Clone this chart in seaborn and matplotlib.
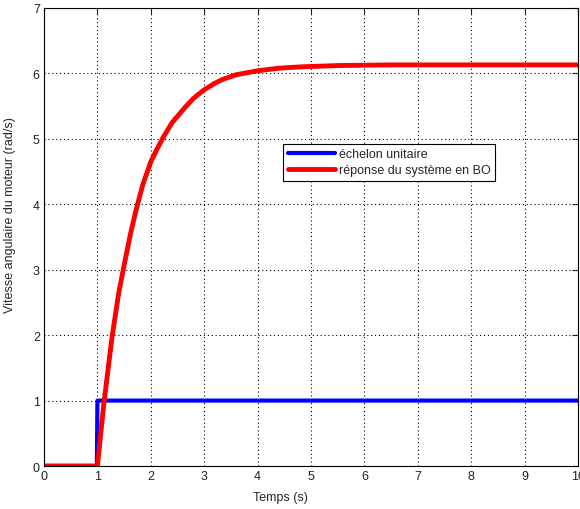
import numpy as np
import pandas as pd
import matplotlib
matplotlib.use("Agg")
import matplotlib.pyplot as plt
import seaborn as sns

# ── Data ────────────────────────────────────────────────────
step_t = [0.0, 0.99, 1.0, 10.0]
step_y = [0.0, 0.0, 1.0, 1.0]

resp_t = [0.0, 1.0, 1.12, 1.27, 1.4, 1.52, 1.62, 1.72, 1.85, 2.0, 2.12,
          2.23, 2.4, 2.64, 2.8, 3.0, 3.2, 3.35, 3.6, 4.0, 4.4, 4.8, 5.5,
          6.5, 8.0, 10.0]
resp_y = [0.0, 0.0, 0.95, 1.95, 2.65, 3.15, 3.55, 3.9, 4.3, 4.65, 4.85,
          5.02, 5.25, 5.48, 5.62, 5.75, 5.85, 5.91, 5.98, 6.04, 6.08, 6.10,
          6.12, 6.13, 6.13, 6.13]

x_ticks = list(range(0, 11))
y_ticks = list(range(0, 8))

labels = ["échelon unitaire", "réponse du système en BO"]
colors = ["#0000ff", "#ff0000"]

sns.set_style("white")
plt.rcParams["font.family"] = ["Liberation Sans", "DejaVu Sans"]

df_step = pd.DataFrame({"t": step_t, "y": step_y})
df_resp = pd.DataFrame({"t": resp_t, "y": resp_y})

fig = plt.figure(figsize=(5.8, 5.1), dpi=100)
ax = fig.add_axes([0.0759, 0.0843, 0.9207, 0.8981])

sns.lineplot(data=df_step, x="t", y="y", ax=ax, color=colors[0], lw=3,
             estimator=None, sort=False, label=labels[0])
sns.lineplot(data=df_resp, x="t", y="y", ax=ax, color=colors[1], lw=3.5,
             estimator=None, sort=False, label=labels[1])

ax.set_xlim(0, 10)
ax.set_ylim(0, 7)
ax.set_xticks(x_ticks)
ax.set_yticks(y_ticks)
ax.tick_params(direction="in", length=4, labelsize=9, colors="#222222",
               top=True, right=True, pad=3)
ax.grid(True, linestyle=(0, (1, 2.5)), color="black", linewidth=0.8)
for s in ax.spines.values():
    s.set_visible(True)
    s.set_color("black")
    s.set_linewidth(0.8)

ax.set_xlabel("Temps (s)", fontsize=9)
ax.set_ylabel("Vitesse angulaire du moteur (rad/s)", fontsize=9)
ax.xaxis.set_label_coords(0.442, -0.055)
ax.yaxis.set_label_coords(-0.052, 0.55)

leg = ax.legend(loc="upper left", bbox_to_anchor=(0.448, 0.703), fontsize=9,
                frameon=True, fancybox=False, framealpha=1, edgecolor="black",
                borderaxespad=0, handlelength=3.8, handletextpad=0.3,
                borderpad=0.35, labelspacing=0.3)
leg.get_frame().set_linewidth(0.8)

fig.savefig("out.png", dpi=100)
